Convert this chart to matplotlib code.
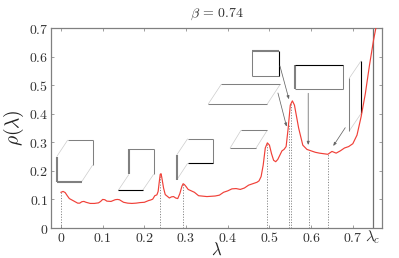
import matplotlib
matplotlib.use("Agg")
import matplotlib.pyplot as plt

plt.rcParams["mathtext.fontset"] = "cm"

# density of states
lam = [0, .005, .01, .015, .02, .03, .04, .045, .05, .055, .06, .07, .08, .09, .095, .1, .105, .11, .12, .13, .135,
       .14, .15, .16, .17, .18, .19, .2, .21, .215, .22, .225, .23, .233, .236, .238, .24, .242, .246, .25, .26, .265,
       .27, .275, .28, .285, .29, .293, .296, .3, .305, .32, .33, .35, .37, .38, .39, .4, .41, .42, .43, .44, .45,
       .46, .47, .475, .48, .485, .49, .495, .5, .505, .51, .515, .52, .53, .535, .54, .545, .55, .555, .56, .565, .57, .58,
       .59, .6, .61, .62, .63, .64, .65, .66, .67, .68, .69, .7, .71, .72, .73, .74, .75, .758]
rho = [.125, .128, .124, .113, .103, .095, .087, .087, .092, .093, .09, .086, .086, .088, .093, .1, .099, .094, .093, .099, .1,
       .099, .09, .087, .086, .087, .089, .09, .096, .098, .101, .113, .116, .128, .165, .188, .19, .175, .14, .117, .105, .109,
       .11, .105, .103, .12, .146, .155, .152, .145, .135, .125, .113, .11, .112, .115, .125, .13, .137, .138, .135, .14, .15,
       .155, .16, .165, .18, .22, .28, .298, .29, .26, .237, .232, .24, .27, .275, .285, .35, .43, .445, .43, .39, .35, .29,
       .275, .27, .265, .262, .26, .258, .268, .262, .27, .28, .285, .295, .325, .39, .47, .57, .66, .72]

# dotted guides from the axis up to the curve
guide_x = [0, .238, .293, .494, .547, .552, .594, .641]
guide_top = [.128, .19, .155, .298, .36, .44, .272, .258]

lam_c = 0.7475

xtick_pos = [0, .1, .2, .3, .4, .5, .6, .7, lam_c]
xtick_txt = ["$0$", "$0.1$", "$0.2$", "$0.3$", "$0.4$", "$0.5$", "$0.6$", "$0.7$", r"$\lambda_c$"]
ytick_pos = [0, .1, .2, .3, .4, .5, .6, .7]
ytick_txt = ["$0$", "$0.1$", "$0.2$", "$0.3$", "$0.4$", "$0.5$", "$0.6$", "$0.7$"]

# little lattice sketches, one list per pen
thick_segs = [
    ((-.0103, -.0103), (.2496, .1621)), ((-.0103, .0496), (.1621, .1621)),
    ((.1631, .1631), (.2755, .188)),
    ((.2775, .2775), (.2555, .168)),
    ((.4588, .522), (.6206, .6206)),
    ((.5612, .5612), (.5705, .4855)),
]
gray_segs = [
    ((.0161, .076), (.308, .308)), ((.076, .076), (.308, .2205)),
    ((.1631, .2223), (.2755, .2755)), ((.2223, .2223), (.2755, .188)),
    ((.3038, .3638), (.3126, .3126)), ((.3638, .3638), (.3126, .2265)),
    ((.4053, .4676), (.279, .279)), ((.4317, .4947), (.342, .342)),
    ((.3532, .4947), (.434, .434)), ((.3844, .5259), (.503, .503)),
    ((.4588, .4588), (.6206, .531)), ((.4588, .522), (.531, .531)),
    ((.5612, .6755), (.4855, .4855)), ((.6755, .6755), (.5705, .4855)),
    ((.6914, .6914), (.524, .3395)),
]
black_segs = [
    ((.1374, .1959), (.132, .132)),
    ((.3038, .3638), (.2265, .2265)),
    ((.522, .522), (.6206, .531)),
    ((.5612, .6755), (.5705, .5705)),
    ((.7201, .7201), (.5856, .4015)),
]
light_segs = [
    ((-.0103, .0161), (.2496, .308)), ((.0496, .076), (.1621, .2205)),
    ((.1374, .1631), (.132, .188)), ((.1959, .2223), (.132, .188)),
    ((.2775, .3038), (.2555, .3126)), ((.2775, .3038), (.168, .2265)),
    ((.4053, .4317), (.279, .342)), ((.4676, .4947), (.279, .342)),
    ((.3532, .3844), (.434, .503)), ((.4947, .5259), (.434, .503)),
    ((.6914, .7201), (.524, .5856)), ((.6914, .7201), (.3395, .4015)),
]
arrows = [
    ((.5204, .4725), (.5412, .3546)),
    ((.5252, .567), (.5468, .4505)),
    ((.593, .4715), (.593, .2905)),
    ((.6818, .351), (.653, .287)),
]

fig = plt.figure(figsize=(3.99, 2.58), dpi=100)
ax = fig.add_axes([51.0 / 399, 1 - 228.0 / 258, 331.0 / 399, 200.0 / 258])

for segs, col, lw in [(light_segs, "#cccccc", 0.5), (gray_segs, "#808080", 0.75),
                      (thick_segs, "#808080", 1.5), (black_segs, "black", 0.8)]:
    for xs, ys in segs:
        ax.plot(xs, ys, color=col, linewidth=lw, solid_capstyle="butt", zorder=1)

for start, end in arrows:
    ax.annotate("", xy=end, xytext=start,
                arrowprops=dict(arrowstyle="-|>,head_length=0.2,head_width=0.08", color="#666666",
                                linewidth=0.55, shrinkA=0, shrinkB=0))

for x, top in zip(guide_x, guide_top):
    ax.plot([x, x], [0, top], color="#666666", linestyle=(0, (1.5, 2)), linewidth=0.55, zorder=1)

ax.axvline(lam_c, color="#707070", linewidth=0.9, zorder=1)
ax.plot(lam, rho, color="#f04038", linewidth=0.85, zorder=3)

ax.set_xlim(-0.024, 0.77)
ax.set_ylim(0, 0.7)
ax.set_xticks(xtick_pos[:-1])
ax.set_xticklabels(xtick_txt[:-1])
ax.set_yticks(ytick_pos)
ax.set_yticklabels(ytick_txt)
ax.text(lam_c, -0.065, xtick_txt[-1], fontsize=11, color="#333333", ha="center", va="baseline",
        transform=ax.get_xaxis_transform())
ax.tick_params(direction="in", top=True, right=True, length=2.5, width=0.5, color="#777777",
               labelsize=10, labelcolor="#333333", pad=2)
for sp in ax.spines.values():
    sp.set_color("#808080")
    sp.set_linewidth(0.9)

ax.text(0.5, -0.132, r"$\lambda$", fontsize=12, color="#222222", ha="center", va="baseline", transform=ax.transAxes)
ax.set_ylabel(r"$\rho(\lambda)$", fontsize=14, color="#222222", labelpad=2)
ax.set_title(r"$\beta\,=\,0.74$", fontsize=10, color="#333333", pad=8)

fig.savefig("out.png", dpi=100)
